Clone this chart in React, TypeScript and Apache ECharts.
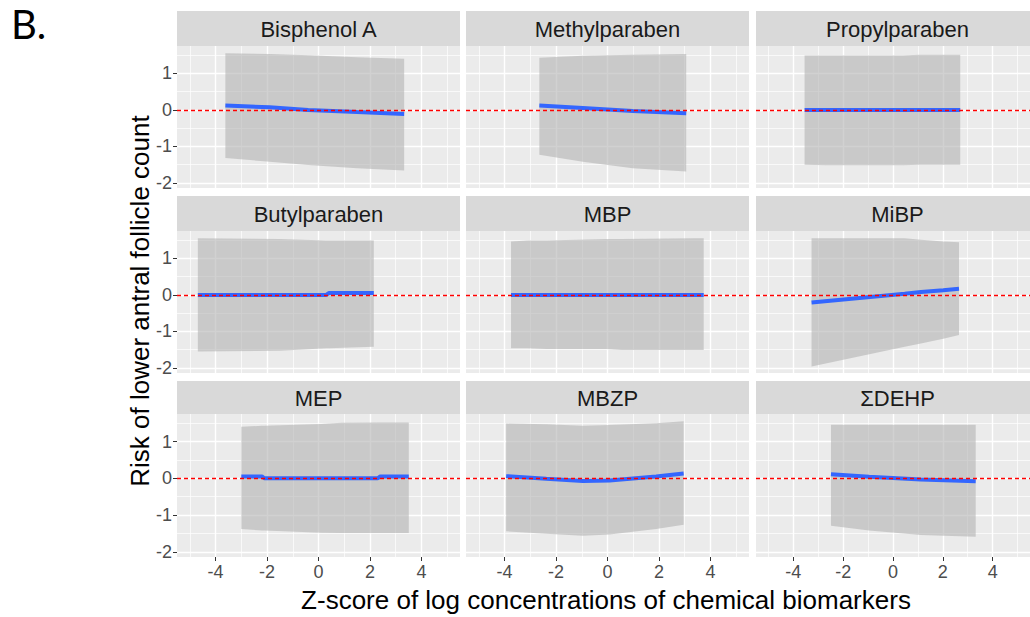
import React, { useEffect, useRef } from "react";
import * as echarts from "echarts";

// ---- Data ----
const PANEL_NAMES = [
  "Bisphenol A", "Methylparaben", "Propylparaben",
  "Butylparaben", "MBP", "MiBP",
  "MEP", "MBZP", "ΣDEHP",
];

const X_TICKS = [-4, -2, 0, 2, 4];
const Y_TICKS = [-2, -1, 0, 1];

const BPA_X = [-3.62, -1.9, -0.4, 1.5, 3.33];
const BPA_FIT = [0.12, 0.07, 0.0, -0.06, -0.11];
const BPA_LO = [-1.32, -1.42, -1.51, -1.6, -1.66];
const BPA_HI = [1.55, 1.53, 1.5, 1.44, 1.4];

const MEPB_X = [-2.65, -0.96, 0.98, 3.06];
const MEPB_FIT = [0.12, 0.05, -0.03, -0.09];
const MEPB_LO = [-1.23, -1.42, -1.6, -1.69];
const MEPB_HI = [1.43, 1.48, 1.51, 1.53];

const PRPB_X = [-3.55, -2.65, 0.4, 1.05, 2.7];
const PRPB_FIT = [0, 0, 0, 0, 0];
const PRPB_LO = [-1.5, -1.52, -1.52, -1.5, -1.5];
const PRPB_HI = [1.49, 1.49, 1.49, 1.51, 1.51];

const BUPB_X = [-4.69, -1.5, 0.3, 0.4, 2.15];
const BUPB_FIT = [0, 0, 0, 0.05, 0.05];
const BUPB_LO = [-1.55, -1.53, -1.46, -1.46, -1.42];
const BUPB_HI = [1.55, 1.53, 1.49, 1.49, 1.49];

const MBP_X = [-3.75, -3.1, -2.36, -0.05, 0.56, 3.32, 3.74];
const MBP_FIT = [0, 0, 0, 0, 0, 0, 0];
const MBP_LO = [-1.46, -1.46, -1.48, -1.48, -1.51, -1.51, -1.51];
const MBP_HI = [1.46, 1.49, 1.49, 1.53, 1.53, 1.55, 1.55];

const MIBP_X = [-3.27, 0.47, 1.12, 2.02, 2.65];
const MIBP_FIT = [-0.21, 0.03, 0.08, 0.13, 0.17];
const MIBP_LO = [-1.96, -1.42, -1.33, -1.2, -1.1];
const MIBP_HI = [1.55, 1.55, 1.51, 1.46, 1.44];

const MEP_X = [-3.0, -2.2, -2.1, 0.1, 0.9, 2.3, 2.4, 3.51];
const MEP_FIT = [0.05, 0.05, 0, 0, 0, 0, 0.05, 0.05];
const MEP_LO = [-1.38, -1.42, -1.42, -1.48, -1.49, -1.49, -1.49, -1.49];
const MEP_HI = [1.4, 1.43, 1.43, 1.48, 1.51, 1.52, 1.52, 1.52];

const MBZP_X = [-3.94, -2.38, -0.96, 0.08, 1.89, 2.96];
const MBZP_FIT = [0.06, -0.01, -0.07, -0.06, 0.05, 0.13];
const MBZP_LO = [-1.44, -1.51, -1.56, -1.53, -1.38, -1.26];
const MBZP_HI = [1.49, 1.47, 1.43, 1.45, 1.5, 1.55];

const DEHP_X = [-2.49, -0.96, 1.12, 3.32];
const DEHP_FIT = [0.11, 0.04, -0.03, -0.08];
const DEHP_LO = [-1.29, -1.42, -1.54, -1.59];
const DEHP_HI = [1.46, 1.46, 1.46, 1.46];

const PANEL_DATA = [
  [BPA_X, BPA_FIT, BPA_LO, BPA_HI],
  [MEPB_X, MEPB_FIT, MEPB_LO, MEPB_HI],
  [PRPB_X, PRPB_FIT, PRPB_LO, PRPB_HI],
  [BUPB_X, BUPB_FIT, BUPB_LO, BUPB_HI],
  [MBP_X, MBP_FIT, MBP_LO, MBP_HI],
  [MIBP_X, MIBP_FIT, MIBP_LO, MIBP_HI],
  [MEP_X, MEP_FIT, MEP_LO, MEP_HI],
  [MBZP_X, MBZP_FIT, MBZP_LO, MBZP_HI],
  [DEHP_X, DEHP_FIT, DEHP_LO, DEHP_HI],
];

const X_MIN = -5.5;
const X_MAX = 5.5;
const Y_MIN = -2.14;
const Y_MAX = 1.75;

// ---- Layout ----
const COL_LEFT = [177, 466, 756];
const PANEL_W = 283;
const ROW_TOP = [46, 231, 414];
const PANEL_H = [142, 142, 143];
const STRIP_TOP = [11, 196, 381];
const STRIP_H = [35, 35, 33];

const FONT = "'Liberation Sans', Arial, sans-serif";

export default function App() {
  const ref = useRef<HTMLDivElement>(null);

  useEffect(() => {
    if (!ref.current) return;
    const chart = echarts.init(ref.current, undefined, { renderer: "svg" });

    const grids: any[] = [];
    const xAxes: any[] = [];
    const yAxes: any[] = [];
    const series: any[] = [];
    const graphics: any[] = [];

    PANEL_NAMES.forEach((name, i) => {
      const r = Math.floor(i / 3);
      const c = i % 3;
      grids.push({
        left: COL_LEFT[c],
        top: ROW_TOP[r],
        width: PANEL_W,
        height: PANEL_H[r],
        show: true,
        backgroundColor: "#EBEBEB",
        borderWidth: 0,
        containLabel: false,
      });
      xAxes.push({
        gridIndex: i,
        type: "value",
        min: X_MIN,
        max: X_MAX,
        position: "bottom",
        axisLine: { show: false, onZero: false },
        axisTick: {
          show: r === 2,
          customValues: X_TICKS,
          length: 4,
          lineStyle: { color: "#333333", width: 1 },
        },
        axisLabel: {
          show: r === 2,
          customValues: X_TICKS,
          color: "#4D4D4D",
          fontSize: 18,
          fontFamily: FONT,
          margin: 6,
        },
        splitLine: { show: true, lineStyle: { color: "#FFFFFF", width: 1.4 } },
        minorTick: { show: false, splitNumber: 2 },
        minorSplitLine: { show: true, lineStyle: { color: "#FFFFFF", width: 0.7 } },
      });
      yAxes.push({
        gridIndex: i,
        type: "value",
        min: Y_MIN,
        max: Y_MAX,
        position: "left",
        axisLine: { show: false, onZero: false },
        axisTick: {
          show: c === 0,
          customValues: Y_TICKS,
          length: 4,
          lineStyle: { color: "#333333", width: 1 },
        },
        axisLabel: {
          show: c === 0,
          customValues: Y_TICKS,
          color: "#4D4D4D",
          fontSize: 18,
          fontFamily: FONT,
          margin: 5,
        },
        splitLine: { show: true, lineStyle: { color: "#FFFFFF", width: 1.4 } },
        minorTick: { show: false, splitNumber: 2 },
        minorSplitLine: { show: true, lineStyle: { color: "#FFFFFF", width: 0.7 } },
      });

      const [xs, fit, lo, hi] = PANEL_DATA[i];
      // confidence ribbon as a polygon through the axes' scales
      series.push({
        type: "custom",
        xAxisIndex: i,
        yAxisIndex: i,
        silent: true,
        z: 2,
        data: xs.map((x, k) => [x, lo[k], hi[k]]),
        renderItem: (params: any, api: any) => {
          if (params.dataIndex !== 0) return null;
          const upper = xs.map((x, k) => api.coord([x, hi[k]]));
          const lower = xs.map((x, k) => api.coord([x, lo[k]])).reverse();
          return {
            type: "polygon",
            shape: { points: upper.concat(lower) },
            style: { fill: "#B3B3B3", opacity: 0.6 },
          };
        },
      });
      series.push({
        type: "line",
        xAxisIndex: i,
        yAxisIndex: i,
        showSymbol: false,
        symbol: "none",
        silent: true,
        lineStyle: { color: "#3366FF", width: 4 },
        data: xs.map((x, k) => [x, fit[k]]),
        z: 3,
        markLine: {
          silent: true,
          symbol: "none",
          label: { show: false },
          lineStyle: { color: "#FF0000", type: [4, 3], width: 1.3 },
          data: [{ yAxis: 0 }],
          z: 5,
        },
      });

      // facet strip
      graphics.push({
        type: "rect",
        shape: { x: COL_LEFT[c], y: STRIP_TOP[r], width: PANEL_W, height: STRIP_H[r] },
        style: { fill: "#D9D9D9" },
        silent: true,
      });
      graphics.push({
        type: "text",
        x: COL_LEFT[c] + PANEL_W / 2,
        y: STRIP_TOP[r] + STRIP_H[r] / 2 + 1,
        style: {
          text: name,
          fill: "#1A1A1A",
          font: `22px ${FONT}`,
          textAlign: "center",
          textVerticalAlign: "middle",
        },
        silent: true,
      });
    });

    graphics.push({
      type: "text",
      x: 140,
      y: 301,
      rotation: Math.PI / 2,
      style: {
        text: "Risk of lower antral follicle count",
        fill: "#000000",
        font: `26px ${FONT}`,
        textAlign: "center",
        textVerticalAlign: "middle",
      },
      silent: true,
    });
    graphics.push({
      type: "text",
      x: 606,
      y: 600,
      style: {
        text: "Z-score of log concentrations of chemical biomarkers",
        fill: "#000000",
        font: `26px ${FONT}`,
        textAlign: "center",
        textVerticalAlign: "middle",
      },
      silent: true,
    });
    graphics.push({
      type: "text",
      x: 11,
      y: 4,
      style: {
        text: "B.",
        fill: "#000000",
        font: `40px Lato, 'Open Sans', sans-serif`,
        textAlign: "left",
        textVerticalAlign: "top",
      },
      silent: true,
    });

    chart.setOption({
      animation: false,
      backgroundColor: "#FFFFFF",
      grid: grids,
      xAxis: xAxes,
      yAxis: yAxes,
      series,
      graphic: graphics,
    });

    return () => chart.dispose();
  }, []);

  return (
    <div
      ref={ref}
      style={{ position: "absolute", left: 0, top: 0, width: 1030, height: 617 }}
    />
  );
}
